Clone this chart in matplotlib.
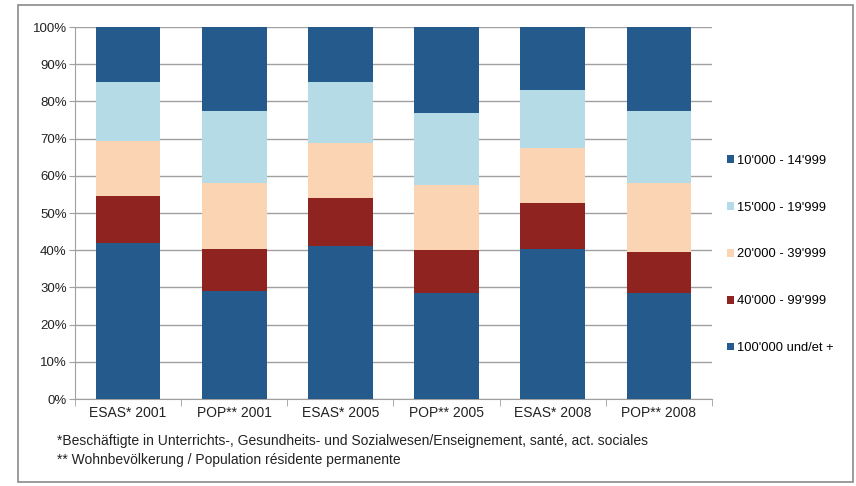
import matplotlib
matplotlib.use("Agg")
import matplotlib.pyplot as plt
from matplotlib.patches import Rectangle
import numpy as np

plt.rcParams['font.family'] = ['Liberation Sans', 'DejaVu Sans']

categories = ["ESAS* 2001", "POP** 2001", "ESAS* 2005", "POP** 2005", "ESAS* 2008", "POP** 2008"]
series_names = ["100'000 und/et +", "40'000 - 99'999", "20'000 - 39'999", "15'000 - 19'999", "10'000 - 14'999"]
s_100k = [42.0, 29.1, 41.2, 28.5, 40.3, 28.4]
s_40k = [12.6, 11.2, 12.8, 11.5, 12.4, 11.1]
s_20k = [14.7, 17.7, 14.9, 17.5, 14.8, 18.5]
s_15k = [15.8, 19.4, 16.2, 19.5, 15.6, 19.4]
s_10k = [14.9, 22.6, 14.9, 23.0, 16.9, 22.6]
colors = ["#245a8c", "#8f2320", "#fad4b3", "#b5dce6", "#245a8c"]

fig = plt.figure(figsize=(8.56, 4.86), dpi=100)
ax = fig.add_axes([75/856, 1-399/486, (712-75)/856, (399-27)/486])

x = np.arange(len(categories))
bottom = np.zeros(len(categories))
handles = []
for vals, col, name in zip([s_100k, s_40k, s_20k, s_15k, s_10k], colors, series_names):
    vals = np.array(vals)
    b = ax.bar(x, vals, bottom=bottom, width=0.61, color=col, label=name, zorder=3)
    handles.append(b)
    bottom += vals

ax.set_xlim(-0.5, len(categories) - 0.5)
ax.set_ylim(0, 100)
ax.set_yticks(np.arange(0, 101, 10))
ax.set_yticklabels([f"{v}%" for v in range(0, 101, 10)], fontsize=9.5, color="#222222")
ax.yaxis.grid(True, color="#a0a0a0", linewidth=1, zorder=0)
ax.set_xticks(x)
ax.set_xticklabels(categories, fontsize=10, color="#222222")
ax.tick_params(axis='x', length=0, pad=5)
ax.tick_params(axis='y', length=4, color="#a0a0a0", direction='out', pad=2)
ax.set_xticks(np.arange(-0.5, len(categories), 1), minor=True)
ax.tick_params(axis='x', which='minor', length=5, color="#a0a0a0", direction='out')
for s in ['top', 'right']:
    ax.spines[s].set_visible(False)
for s in ['left', 'bottom']:
    ax.spines[s].set_color("#a0a0a0")

leg = ax.legend(handles[::-1], series_names[::-1], loc='upper left',
                bbox_to_anchor=(715/856, 1-143/486), bbox_transform=fig.transFigure,
                frameon=False, fontsize=9.3, handlelength=0.55, handleheight=0.55,
                handletextpad=0.25, labelspacing=2.7)

fig.text(57/856, 1-441/486, "*Beschäftigte in Unterrichts-, Gesundheits- und Sozialwesen/Enseignement, santé, act. sociales",
         fontsize=10, va='center', color="#222222")
fig.text(57/856, 1-460/486, "** Wohnbevölkerung / Population résidente permanente",
         fontsize=10, va='center', color="#222222")

fig.patches.append(Rectangle((18/856, 4/486), (853-18)/856, (481-4)/486, transform=fig.transFigure,
                             fill=False, edgecolor="#8a8a8a", linewidth=1.2))

fig.savefig("out.png", dpi=100)
